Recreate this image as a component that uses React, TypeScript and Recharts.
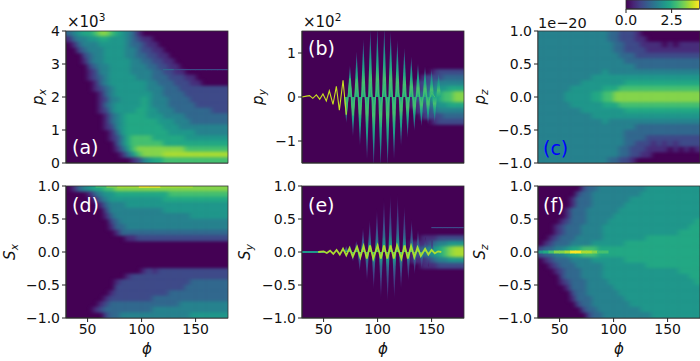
import { ScatterChart, Scatter, XAxis, YAxis, BarChart, Bar } from "recharts";

// colour per level of the heat maps (level 10 = top of the colour bar)
const levelColors = ["#440154", "#472d7b", "#3e4a89", "#31688e", "#26828e", "#1f978b", "#22a884", "#44bf70", "#84d44b", "#aadc32", "#fde725"];
const colorbarStops = ["#440154", "#482475", "#414487", "#355f8d", "#2a788e", "#21918c", "#22a884", "#44bf70", "#7ad151", "#bddf26", "#fde725"];

const phiTicks = [50, 100, 150];
const unitTicks = [-1, -0.5, 0, 0.5, 1];
const pxTicks = [0, 1, 2, 3, 4];
const pyTicks = [-1, 0, 1];
const colorbarTicks = [0, 2.5];

// heat maps: one string per row (top to bottom), one level per 5 degrees of phi
const pxRows = [
  "345667887654310000000000000000",
  "134455665554321100000000000000",
  "013444555554332110000000000000",
  "002344455554432211000000000000",
  "000234455554433221100000000000",
  "000134455555443322110000000000",
  "000023445555444332211000000000",
  "000012445555444433221100000000",
  "000012345555544433322211000000",
  "000001345555555443332221100000",
  "000001234555555444333222222222",
  "000000134555555544333322222222",
  "000000124455556544433332222222",
  "000000134555556544433333222222",
  "000000124555566554443333333222",
  "000000013456666555444433333333",
  "000000013456666665554443333333",
  "000000012456666666555444444444",
  "000000001356666666655555444444",
  "000000001246777766666655555555",
  "000000000246777777666666666666",
  "000000000135788888888877777777",
  "000000000013578888999999999999",
  "000000000000124566777777777777",
];
const pyRows = [
  "000000000000000000000000000000",
  "000000000000000000000000000000",
  "000000000000000000000000000000",
  "000000000000000000000000000000",
  "000000000000000000000000000000",
  "000000000000000000000000000000",
  "000000000000000000000000000000",
  "000000000000000000000000122222",
  "000000000000000000000012223333",
  "000000000000000000000122344444",
  "000000000000000000001123455666",
  "000000000000000000001234567788",
  "000000000000000000001234567788",
  "000000000000000000001123455666",
  "000000000000000000000122344444",
  "000000000000000000000012223333",
  "000000000000000000000000122222",
  "000000000000000000000000000000",
  "000000000000000000000000000000",
  "000000000000000000000000000000",
  "000000000000000000000000000000",
  "000000000000000000000000000000",
  "000000000000000000000000000000",
  "000000000000000000000000000000",
];
const pzRows = [
  "444444444444433222100000000000",
  "444444444444433222110000000000",
  "444444444444443322211110101111",
  "444444444444443322221111111111",
  "444444444444444333222222222222",
  "444444444444444433333333333333",
  "444444444444444444333333333333",
  "444444444444544444444444444444",
  "444444444455555555555555555555",
  "444444445555555566666666666666",
  "444444555555666777777777777777",
  "444445555566778888888888888888",
  "444445555566778888888888888888",
  "444444555555666777777777777777",
  "444444445555555566666666666666",
  "444444444455555555555555555555",
  "444444444444544444444444444444",
  "444444444444444444333333333333",
  "444444444444444433333333333333",
  "444444444444444433332222222222",
  "444444444444444433222121212222",
  "444444444444444332221111010101",
  "444444444444444332211000000000",
  "444444444444433221000000000000",
];
const sxRows = [
  "013456677888888888888888888888",
  "000013455666666666677777777777",
  "000001345555555555666666666666",
  "000000134445555555555555555555",
  "000000024444444444555555555555",
  "000000013444444444444445555555",
  "000000002344444444444444444444",
  "000000001334444444444444444444",
  "000000000133333333333333333333",
  "000000000001122222222222222222",
  "000000000000000000000000000000",
  "000000000000000000000000000000",
  "000000000000000000000000000000",
  "000000000000000000000000000000",
  "000000000000000000000000000000",
  "000000000000001212222222222222",
  "000000000001222222222222222222",
  "000000000122222222222223333333",
  "000000000222222222222233333333",
  "000000001222222222233333333333",
  "000000012222222233333333333333",
  "000000123333333333333444444444",
  "000001233333333344444444444444",
  "000000023344444444444445555555",
];
const syRows = [
  "000000000000000000000000000000",
  "000000000000000000000000000000",
  "000000000000000000000000000000",
  "000000000000000000000000000000",
  "000000000000000000000000000000",
  "000000000000000000000000000000",
  "000000000000000000000000000000",
  "000000000000000000000000000000",
  "000000000000000000000000000000",
  "000000000000000000000011122222",
  "000000000000000000001112344555",
  "000000000000000000001234567899",
  "000000000000000000001234567899",
  "000000000000000000001112344555",
  "000000000000000000000011122222",
  "000000000000000000000000000000",
  "000000000000000000000000000000",
  "000000000000000000000000000000",
  "000000000000000000000000000000",
  "000000000000000000000000000000",
  "000000000000000000000000000000",
  "000000000000000000000000000000",
  "000000000000000000000000000000",
  "000000000000000000000000000000",
];
const szRows = [
  "000000002334444444445555555555",
  "000000023344444444455555555555",
  "000000133344444445555555555555",
  "000000133344444455555555555555",
  "000001333444444555555555555555",
  "000001333444445555555555555555",
  "000012333444455555555555555556",
  "000123334444555555555555555566",
  "000123334444555555555555556666",
  "001233344444555555556666666666",
  "012333444455555566666666666666",
  "233445667776666666666666666666",
  "233445667776666666666666666666",
  "012333444455555566666666666666",
  "001233344444555555556666666666",
  "000123334444555555555555556666",
  "000023334444555555555555555566",
  "000012333444455555555555555556",
  "000001333444445555555555555555",
  "000000233444444555555555555555",
  "000000133344444455555555555555",
  "000000023344444445555555555555",
  "000000002334444444455555555555",
  "000000000233444444444555555555",
];

// spike tips of the oscillating panels
const pyTopPhi = [74.4, 80.6, 86.8, 93.3, 99.8, 106.2, 112.1, 118.3, 124.8, 131.2, 137.4, 143.9, 150, 156.5];
const pyTopVal = [0.73, 1.04, 1.32, 1.55, 1.6, 1.6, 1.5, 1.3, 1.12, 0.92, 0.77, 0.7, 0.64, 0.58];
const pyBotPhi = [71, 77.2, 83.7, 90.2, 96.4, 102.8, 109.3, 115.2, 121.7, 127.8, 134, 140.5, 146.7, 152.8];
const pyBotVal = [-0.59, -0.9, -1.12, -1.43, -1.6, -1.6, -1.6, -1.43, -1.12, -0.93, -0.78, -0.67, -0.63, -0.6];
const pyWigglePhi = [30, 34, 37, 40, 43.3, 46.4, 49.4, 52.5, 55.3, 58.7, 61.8, 64.6, 68, 71];
const pyWiggleVal = [0, 0.02, 0.03, -0.03, 0.05, -0.05, 0.07, -0.09, 0.14, -0.17, 0.24, -0.3, 0.38, -0.4];
const pyCorePhi = [71, 74.4, 77.2, 80.6, 83.7, 86.8, 90.2, 93.3, 96.4, 99.8, 102.8, 106.2, 109.3, 112.1, 115.2, 118.3, 121.7, 124.8, 127.8, 131.2, 134, 137.4, 140.5, 143.9, 146.7, 150, 153];
const pyCoreVal = [-0.4, 0.42, -0.42, 0.4, -0.4, 0.35, -0.38, 0.32, -0.32, 0.3, -0.3, 0.3, -0.3, 0.3, -0.28, 0.28, -0.28, 0.25, -0.25, 0.25, -0.22, 0.22, -0.2, 0.2, -0.15, 0.1, 0];

const syTopPhi = [71, 74.4, 80.3, 86.5, 92.7, 99.4, 105.9, 111.8, 118.6, 124.8, 131.5, 137.4, 144.2, 150.4];
const syTopVal = [0.1, 0.12, 0.18, 0.38, 0.5, 0.66, 0.81, 0.88, 0.88, 0.71, 0.5, 0.35, 0.23, 0.18];
const syBotPhi = [77.2, 83.4, 90.2, 96.4, 103.1, 109.3, 115.5, 121.7, 128.5, 134.3, 140.8, 147.3];
const syBotVal = [-0.15, -0.3, -0.45, -0.58, -0.73, -0.78, -0.73, -0.58, -0.45, -0.35, -0.28, -0.23];
const syCorePhi = [45, 50, 53, 56, 59, 62, 65, 68, 71, 74, 77, 81, 84, 87, 90, 93, 96, 100, 103, 106, 109, 112, 115, 118, 122, 125, 128, 131, 134, 137, 140, 144, 147, 150, 153, 156, 159];
const syCoreVal = [0, 0.01, -0.015, 0.02, -0.03, 0.03, -0.04, 0.05, -0.05, 0.06, -0.07, 0.08, -0.08, 0.09, -0.1, 0.1, -0.1, 0.1, -0.1, 0.1, -0.1, 0.1, -0.1, 0.1, -0.1, 0.1, -0.1, 0.09, -0.08, 0.07, -0.06, 0.05, -0.04, 0.03, -0.02, 0.01, 0];

// thin features, narrower than one heat map row
const szRidgePhi = [32.5, 37.5, 42.5, 47.5, 52.5, 57.5, 62.5, 67.5, 72.5, 77.5, 82.5, 87.5, 92.5];
const szRidgeLevel = [5, 6, 7, 8, 8, 9, 10, 10, 9, 9, 8, 7, 7];
const sxRidgePhi = [62.5, 72.5, 82.5, 92.5, 102.5, 112.5, 122.5, 132.5, 142.5, 152.5, 162.5, 172.5];
const sxRidgeLevel = [7, 8, 9, 9, 10, 10, 9, 9, 9, 8, 8, 8];
const syFlatPhi = [32.5, 37.5, 42.5, 47.5];
const syFlatLevel = [5, 5, 5, 5];
const pxLinePhi = [122.5, 127.5, 132.5, 137.5, 142.5, 147.5, 152.5, 157.5, 162.5, 167.5, 172.5, 177.5];
const pxLineLevel = [3, 3, 2, 2, 2, 2, 2, 2, 2, 2, 2, 2];
const syLinePhi = [152.5, 157.5, 162.5, 167.5, 172.5, 177.5];
const syLineLevel = [2, 2, 2, 2, 2, 2];

const PLOT_W = 162;
const PLOT_H = 132;
const LEFT = 60;
const TOP = 10;

const fmtOne = (v: number) => v.toFixed(1).replace("-", "\u2212");
const fmtInt = (v: number) => String(v).replace("-", "\u2212");
const font = "'DejaVu Sans'";

const zip = (xs: number[], ys: number[]) => xs.map((x, i) => ({ x, y: ys[i] }));

function toCells(rows: string[], yMin: number, yMax: number) {
  const dy = (yMax - yMin) / rows.length;
  const cells: { x: number; y: number; level: number; c: number; r: number; nr: number }[] = [];
  rows.forEach((row, r) => {
    for (let c = 0; c < 30; c++) {
      const level = parseInt(row[c] ?? "0", 16);
      if (level > 0) cells.push({ x: 30 + (c + 0.5) * 5, y: yMax - (r + 0.5) * dy, level, c, r, nr: rows.length });
    }
  });
  return cells;
}

function HeatCell(props: any) {
  const { cx, cy, payload } = props;
  const w = PLOT_W / 30;
  const h = PLOT_H / payload.nr;
  const x0 = cx - w / 2 - 0.3 - (payload.c === 0 ? 9 : 0);
  const x1 = cx + w / 2 + 0.3 + (payload.c === 29 ? 9 : 0);
  const y0 = cy - h / 2 - 0.3 - (payload.r === 0 ? 5 : 0);
  const y1 = cy + h / 2 + 0.3 + (payload.r === payload.nr - 1 ? 5 : 0);
  return <rect x={x0} y={y0} width={x1 - x0} height={y1 - y0} fill={levelColors[payload.level]} />;
}

const ridgeShape = (thick: number) => (props: any) => (
  <rect x={props.cx - 3} y={props.cy - thick / 2} width={6} height={thick} fill={levelColors[props.payload.level]} />
);

const spikeShape = (halfWidth: number, gradient: string) => (props: any) => {
  const zero = TOP + PLOT_H / 2;
  return <path d={`M${props.cx - halfWidth} ${zero}L${props.cx} ${props.cy}L${props.cx + halfWidth} ${zero}Z`} fill={`url(#${gradient})`} />;
};

const noDot = () => <g />;

type PanelProps = {
  left: number;
  top: number;
  rows: string[];
  domain: [number, number];
  ticks: number[];
  fmt: (v: number) => string;
  showX?: boolean;
  children?: React.ReactNode;
};

function Panel({ left, top, rows, domain, ticks, fmt, showX, children }: PanelProps) {
  return (
    <div style={{ position: "absolute", left: left - LEFT, top: top - TOP }}>
      <div style={{ position: "absolute", left: LEFT, top: TOP, width: PLOT_W, height: PLOT_H, background: "#440154" }} />
      <ScatterChart width={LEFT + PLOT_W + 2} height={TOP + PLOT_H + 30} margin={{ top: TOP, right: 2, bottom: 0, left: 0 }}>
        <XAxis type="number" dataKey="x" domain={[30, 180]} ticks={phiTicks} allowDataOverflow height={30} tick={showX ? { fontSize: 14, fontFamily: font, fill: "#111" } : false} tickSize={4} stroke="#222" />
        <YAxis type="number" dataKey="y" domain={domain} ticks={ticks} allowDataOverflow width={LEFT} tickFormatter={fmt} interval={0} tick={{ fontSize: 14, fontFamily: font, fill: "#111" }} tickSize={4} stroke="#222" />
        <Scatter className="heat" data={toCells(rows, domain[0], domain[1])} shape={HeatCell} isAnimationActive={false} />
        {children}
      </ScatterChart>
    </div>
  );
}

const gradientStops = {
  py: [[0, 6], [0.25, 7], [0.45, 6], [0.6, 5], [0.8, 3], [1, 1]],
  sy: [[0, 7], [0.15, 5], [0.3, 3], [0.5, 2], [0.75, 1], [1, 0]],
};

function SpikeGradient({ id, stops, up }: { id: string; stops: number[][]; up: boolean }) {
  return (
    <linearGradient id={id} x1="0" x2="0" y1={up ? "1" : "0"} y2={up ? "0" : "1"}>
      {stops.map(([o, l]) => (
        <stop key={o} offset={o} stopColor={levelColors[l]} />
      ))}
    </linearGradient>
  );
}

const frames = [
  [66, 31], [302, 31], [538, 31],
  [66, 186], [302, 186], [538, 186],
];

function AxisName({ x, y, name, sub }: { x: number; y: number; name: string; sub: string }) {
  return (
    <text transform={`rotate(-90 ${x} ${y})`} x={x} y={y} textAnchor="middle" fontSize={15} fontFamily={font} fill="#111" fontStyle="italic">
      {name}
      <tspan fontSize={10.5} dy={3}>{sub}</tspan>
    </text>
  );
}

export default function App() {
  return (
    <div style={{ position: "absolute", left: 0, top: 0, width: 700, height: 361, overflow: "hidden", background: "#fff" }}>
      <style>{`.heat { filter: url(#smear); } .spike { filter: blur(0.5px); }`}</style>

      <Panel left={66} top={31} rows={pxRows} domain={[0, 4]} ticks={pxTicks} fmt={fmtInt}>
        <Scatter data={pxLinePhi.map((x, i) => ({ x, y: 2.83, level: pxLineLevel[i] }))} shape={ridgeShape(1.2)} isAnimationActive={false} />
      </Panel>

      <Panel left={302} top={31} rows={pyRows} domain={[-1.5, 1.5]} ticks={pyTicks} fmt={fmtInt}>
        <Scatter className="spike" data={zip(pyTopPhi, pyTopVal)} shape={spikeShape(2.3, "pyUp")} isAnimationActive={false} />
        <Scatter className="spike" data={zip(pyBotPhi, pyBotVal)} shape={spikeShape(2.3, "pyDown")} isAnimationActive={false} />
        <Scatter className="spike" data={zip(pyCorePhi, pyCoreVal)} shape={noDot} line={{ stroke: "#44bf70", strokeWidth: 1 }} lineType="joint" isAnimationActive={false} />
        <Scatter className="spike" data={zip(pyWigglePhi, pyWiggleVal)} shape={noDot} line={{ stroke: "#c8e020", strokeWidth: 1.1 }} lineType="joint" isAnimationActive={false} />
      </Panel>

      <Panel left={538} top={31} rows={pzRows} domain={[-1, 1]} ticks={unitTicks} fmt={fmtOne} />

      <Panel left={66} top={186} rows={sxRows} domain={[-1, 1]} ticks={unitTicks} fmt={fmtOne} showX>
        <Scatter data={sxRidgePhi.map((x, i) => ({ x, y: 0.99, level: sxRidgeLevel[i] }))} shape={(p: any) => <rect x={p.cx - 5.5} y={p.cy - 1} width={11} height={2} fill={levelColors[p.payload.level]} />} isAnimationActive={false} />
      </Panel>

      <Panel left={302} top={186} rows={syRows} domain={[-1, 1]} ticks={unitTicks} fmt={fmtOne} showX>
        <Scatter className="spike" data={zip(syTopPhi, syTopVal)} shape={spikeShape(1.9, "syUp")} isAnimationActive={false} />
        <Scatter className="spike" data={zip(syBotPhi, syBotVal)} shape={spikeShape(1.9, "syDown")} isAnimationActive={false} />
        <Scatter data={syFlatPhi.map((x, i) => ({ x, y: 0, level: syFlatLevel[i] }))} shape={ridgeShape(2)} isAnimationActive={false} />
        <Scatter data={syLinePhi.map((x, i) => ({ x, y: 0.37, level: syLineLevel[i] }))} shape={ridgeShape(1.2)} isAnimationActive={false} />
        <Scatter className="spike" data={zip(syCorePhi, syCoreVal)} shape={noDot} line={{ stroke: "#aadc32", strokeWidth: 1.8 }} lineType="joint" isAnimationActive={false} />
      </Panel>

      <Panel left={538} top={186} rows={szRows} domain={[-1, 1]} ticks={unitTicks} fmt={fmtOne} showX>
        <Scatter className="spike" data={szRidgePhi.map((x, i) => ({ x, y: 0, level: szRidgeLevel[i] }))} shape={ridgeShape(3)} isAnimationActive={false} />
      </Panel>

      {/* colour bar */}
      <div style={{ position: "absolute", left: 611, top: 0 }}>
        <BarChart layout="vertical" width={89} height={30} data={[{ name: "cb", v: 4 }]} margin={{ top: 0, right: 1, bottom: 0, left: 15 }} barCategoryGap={0}>
          <XAxis type="number" domain={[0, 4]} ticks={colorbarTicks} height={21} tickFormatter={(v: number) => v.toFixed(1)} tick={{ fontSize: 14, fontFamily: font, fill: "#111" }} tickSize={4} stroke="#222" />
          <YAxis type="category" dataKey="name" hide />
          <Bar dataKey="v" fill="url(#cbar)" isAnimationActive={false} />
        </BarChart>
      </div>

      <svg width={700} height={361} style={{ position: "absolute", left: 0, top: 0, pointerEvents: "none" }}>
        <defs>
          <filter id="smear" x="-5%" y="-5%" width="110%" height="110%" colorInterpolationFilters="sRGB">
            <feGaussianBlur stdDeviation="2.6 1.5" />
          </filter>
          <SpikeGradient id="pyUp" stops={gradientStops.py} up />
          <SpikeGradient id="pyDown" stops={gradientStops.py} up={false} />
          <SpikeGradient id="syUp" stops={gradientStops.sy} up />
          <SpikeGradient id="syDown" stops={gradientStops.sy} up={false} />
          <linearGradient id="cbar" x1="0" x2="1" y1="0" y2="0">
            {colorbarStops.map((c, i) => (
              <stop key={c} offset={i / 10} stopColor={c} />
            ))}
          </linearGradient>
        </defs>
        {frames.map(([x, y]) => (
          <rect key={`${x}-${y}`} x={x} y={y} width={PLOT_W} height={PLOT_H} fill="none" stroke="#333" strokeWidth={0.8} />
        ))}
        <rect x={626} y={0} width={73.5} height={9} fill="none" stroke="#333" strokeWidth={0.8} />

        <g fontFamily={font} fontSize={15} fill="#111">
          <text x={67} y={27}>×10<tspan fontSize={10.5} dy={-6}>3</tspan></text>
          <text x={303} y={27}>×10<tspan fontSize={10.5} dy={-6}>2</tspan></text>
          <text x={538} y={28} fontSize={14.5}>1e−20</text>
          <text x={147} y={354} textAnchor="middle" fontStyle="italic">ϕ</text>
          <text x={383} y={354} textAnchor="middle" fontStyle="italic">ϕ</text>
          <text x={619} y={354} textAnchor="middle" fontStyle="italic">ϕ</text>
        </g>
        <AxisName x={43} y={97} name="p" sub="x" />
        <AxisName x={263} y={97} name="p" sub="y" />
        <AxisName x={485} y={97} name="p" sub="z" />
        <AxisName x={15} y={252} name="S" sub="x" />
        <AxisName x={250} y={252} name="S" sub="y" />
        <AxisName x={485} y={252} name="S" sub="z" />

        <g fontFamily={font} fontSize={19} fill="#fff">
          <text x={72} y={154}>(a)</text>
          <text x={308} y={55}>(b)</text>
          <text x={543} y={155} fill="#0000ff">(c)</text>
          <text x={72} y={212}>(d)</text>
          <text x={308} y={212}>(e)</text>
          <text x={543} y={212}>(f)</text>
        </g>
      </svg>
    </div>
  );
}
